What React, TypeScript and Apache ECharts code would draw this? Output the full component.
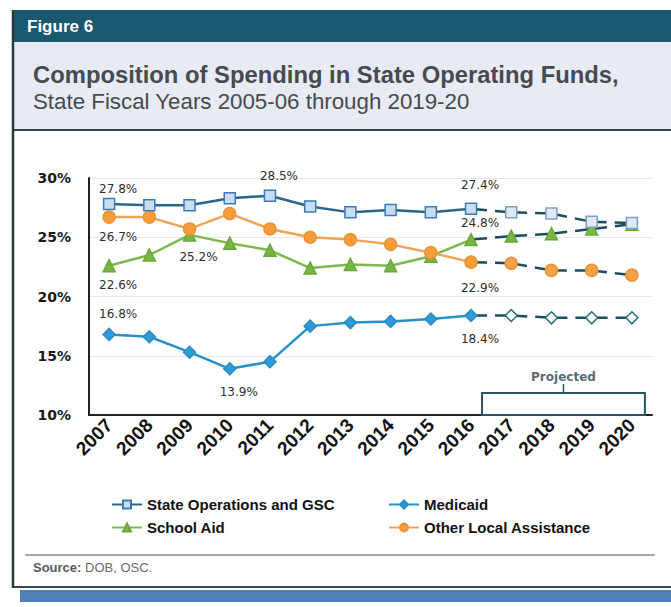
import React, { useEffect, useRef } from 'react';
import * as echarts from 'echarts';

const years = ['2007', '2008', '2009', '2010', '2011', '2012', '2013', '2014', '2015', '2016', '2017', '2018', '2019', '2020'];
const stateOps = [27.8, 27.7, 27.7, 28.3, 28.5, 27.6, 27.1, 27.3, 27.1, 27.4, 27.1, 27.0, 26.3, 26.2];
const medicaid = [16.8, 16.6, 15.3, 13.9, 14.5, 17.5, 17.8, 17.9, 18.1, 18.4, 18.4, 18.2, 18.2, 18.2];
const schoolAid = [22.6, 23.5, 25.2, 24.5, 23.9, 22.4, 22.7, 22.6, 23.4, 24.8, 25.1, 25.3, 25.7, 26.1];
const otherLocal = [26.7, 26.7, 25.7, 27.0, 25.7, 25.0, 24.8, 24.4, 23.7, 22.9, 22.8, 22.2, 22.2, 21.8];
const yMin = 10;
const yMax = 30;
const yStep = 5;
const lastActualIndex = 9;
const seriesNames = ['State Operations and GSC', 'Medicaid', 'School Aid', 'Other Local Assistance'];

const labelFont = 'DejaVu Sans, Verdana, sans-serif';

function App() {
  const ref = useRef<HTMLDivElement>(null);
  useEffect(() => {
    if (!ref.current) return;
    const chart = echarts.init(ref.current, undefined, { renderer: 'svg' });

    const actual = (vals: number[], labels: Record<number, any>) =>
      vals.map((v, i) => {
        if (i > lastActualIndex) return '-';
        const l = labels[i];
        if (!l) return v;
        return {
          value: v,
          label: {
            show: true,
            position: l.pos,
            distance: l.dist ?? 6,
            offset: [9, 0],
            formatter: (p: any) => Number(p.value).toFixed(1) + '%',
            fontFamily: labelFont,
            fontSize: 12,
            color: '#2e2e2e',
          },
        };
      });
    const projected = (vals: number[]) =>
      vals.map((v, i) => (i < lastActualIndex ? '-' : i === lastActualIndex ? { value: v, symbol: 'none' } : v));

    const dashPattern = [16, 8, 16.2, 0.01];
    const projLine = { color: '#1d4d5c', width: 2.5, type: dashPattern };

    const cfg = [
      {
        name: seriesNames[0], data: stateOps, symbol: 'rect', size: 11,
        line: '#2a6689', fill: '#c8dcf2', border: '#3d7ab8',
        pfill: '#dfe9f5', pborder: '#7e9fc8',
        labels: { 0: { pos: 'top', dist: 3 }, 4: { pos: 'top', dist: 8 }, 9: { pos: 'top', dist: 12 } },
        z: 5,
      },
      {
        name: seriesNames[1], data: medicaid, symbol: 'diamond', size: 12,
        line: '#2a90cc', fill: '#2e9bd6', border: '#2a8cc6',
        pfill: '#ffffff', pborder: '#2a6f80',
        labels: { 0: { pos: 'top', dist: 8 }, 3: { pos: 'bottom', dist: 10 }, 9: { pos: 'bottom', dist: 11 } },
        z: 2,
      },
      {
        name: seriesNames[2], data: schoolAid, symbol: 'triangle', size: 12,
        line: '#80b850', fill: '#78b545', border: '#6aa83a',
        pfill: '#7ab648', pborder: '#6aa83a',
        labels: { 0: { pos: 'bottom', dist: 7 }, 2: { pos: 'bottom', dist: 9 }, 9: { pos: 'top', dist: 4 } },
        z: 3,
      },
      {
        name: seriesNames[3], data: otherLocal, symbol: 'circle', size: 12,
        line: '#f0a45a', fill: '#f59c3c', border: '#ee9334',
        pfill: '#f6a24a', pborder: '#ee9334',
        labels: { 0: { pos: 'bottom', dist: 7 }, 9: { pos: 'bottom', dist: 13 } },
        z: 4,
      },
    ];

    const series: any[] = [];
    cfg.forEach((c) => {
      series.push({
        name: c.name,
        type: 'line',
        data: actual(c.data, c.labels as any),
        symbol: c.symbol,
        symbolSize: c.size,
        z: c.z,
        lineStyle: { color: c.line, width: 2.5 },
        itemStyle: { color: c.fill, borderColor: c.border, borderWidth: 1.5 },
      });
      series.push({
        name: c.name + ' (projected)',
        type: 'line',
        data: projected(c.data),
        symbol: c.symbol,
        symbolSize: c.size,
        z: c.z,
        lineStyle: projLine,
        itemStyle: { color: c.pfill, borderColor: c.pborder, borderWidth: 1.5 },
      });
    });

    const legendBase = {
      orient: 'horizontal',
      itemWidth: 30,
      itemHeight: 10,
      itemGap: 4,
      selectedMode: false,
      textStyle: { fontFamily: 'Liberation Sans, Arial, sans-serif', fontWeight: 'bold', fontSize: 15, color: '#111' },
    };

    const option: any = {
      animation: false,
      backgroundColor: '#ffffff',
      grid: { left: 89, right: 19, top: 178, bottom: 192, containLabel: false },
      legend: [
        { ...legendBase, data: [seriesNames[0]], left: 106, top: 492 },
        { ...legendBase, data: [seriesNames[1]], left: 383, top: 492 },
        { ...legendBase, data: [seriesNames[2]], left: 106, top: 515 },
        { ...legendBase, data: [seriesNames[3]], left: 383, top: 515 },
      ],
      xAxis: {
        type: 'category',
        data: years,
        boundaryGap: true,
        axisLine: { show: true, lineStyle: { color: '#222', width: 2 } },
        axisTick: { show: false },
        axisLabel: {
          rotate: 45,
          margin: 7,
          interval: 0,
          fontFamily: 'Liberation Sans, Arial, sans-serif',
          fontWeight: 'bold',
          fontSize: 19,
          color: '#111',
        },
      },
      yAxis: {
        type: 'value',
        min: yMin,
        max: yMax,
        interval: yStep,
        axisLine: { show: true, lineStyle: { color: '#222', width: 2 } },
        axisTick: { show: false },
        splitLine: { show: true, lineStyle: { color: '#e8e8e8', width: 1 } },
        axisLabel: {
          formatter: '{value}%',
          margin: 18,
          fontFamily: labelFont,
          fontWeight: 'bold',
          fontSize: 14,
          color: '#1a1a1a',
        },
      },
      series,
    };
    chart.setOption(option);

    const px = (cat: string) => chart.convertToPixel({ xAxisIndex: 0 }, cat) as number;
    const py = (v: number) => chart.convertToPixel({ yAxisIndex: 0 }, v) as number;
    const bx1 = px(years[lastActualIndex]) + 11;
    const bx2 = px(years[years.length - 1]) + 13;
    const by1 = py(11.85);
    const by2 = py(yMin);
    const bmid = (bx1 + bx2) / 2;

    chart.setOption({
      graphic: [
        { type: 'rect', shape: { x: 12, y: 10, width: 659, height: 32 }, style: { fill: '#1a5870' }, z: 10 },
        {
          type: 'text', x: 27, y: 26,
          style: { text: 'Figure 6', fill: '#ffffff', font: 'bold 17px "Liberation Sans Narrow", "Liberation Sans", Arial, sans-serif', verticalAlign: 'middle' },
          z: 11,
        },
        { type: 'rect', shape: { x: 12, y: 42, width: 659, height: 88 }, style: { fill: '#e8ebf3' }, z: 10 },
        {
          type: 'text', x: 33, y: 74,
          style: { text: 'Composition of Spending in State Operating Funds,', fill: '#474a4e', font: 'bold 23.8px "Liberation Sans", Arial, sans-serif', verticalAlign: 'middle' },
          z: 11,
        },
        {
          type: 'text', x: 33, y: 101,
          style: { text: 'State Fiscal Years 2005-06 through 2019-20', fill: '#474a4e', font: '22.3px "Liberation Sans", Arial, sans-serif', verticalAlign: 'middle' },
          z: 11,
        },
        { type: 'line', shape: { x1: 12, y1: 130, x2: 671, y2: 130 }, style: { stroke: '#34434c', lineWidth: 2 }, z: 11 },
        { type: 'line', shape: { x1: 13, y1: 10, x2: 13, y2: 588 }, style: { stroke: '#2a383e', lineWidth: 2.5 }, z: 12 },
        { type: 'line', shape: { x1: 12, y1: 587, x2: 671, y2: 587 }, style: { stroke: '#3a4650', lineWidth: 2 }, z: 11 },
        { type: 'rect', shape: { x: 20, y: 590, width: 651, height: 12 }, style: { fill: '#4d80b8' }, z: 10 },
        { type: 'line', shape: { x1: 25, y1: 555, x2: 655, y2: 555 }, style: { stroke: '#8a8a8a', lineWidth: 1.5 }, z: 11 },
        {
          type: 'text', x: 33, y: 567,
          style: {
            text: '{b|Source:} DOB, OSC.',
            fill: '#6a6a6a',
            font: '13px "Liberation Sans", Arial, sans-serif',
            verticalAlign: 'middle',
            rich: { b: { fontWeight: 'bold', fill: '#5a5a5a', fontSize: 13, fontFamily: 'Liberation Sans, Arial, sans-serif' } },
          },
          z: 11,
        },
        { type: 'rect', shape: { x: bx1, y: by1, width: bx2 - bx1, height: by2 - by1 }, style: { fill: 'none', stroke: '#2a5563', lineWidth: 2 }, z: 12 },
        { type: 'line', shape: { x1: bmid, y1: by1, x2: bmid, y2: by1 - 9 }, style: { stroke: '#2a5563', lineWidth: 1.5 }, z: 12 },
        {
          type: 'text', x: bmid, y: by1 - 16,
          style: { text: 'Projected', fill: '#5a6a70', font: 'bold 12px "DejaVu Sans", Verdana, sans-serif', align: 'center', verticalAlign: 'middle' },
          z: 12,
        },
      ],
    });

    return () => chart.dispose();
  }, []);
  return <div ref={ref} style={{ position: 'fixed', left: 0, top: 0, width: 671, height: 607 }} />;
}

export default App;
